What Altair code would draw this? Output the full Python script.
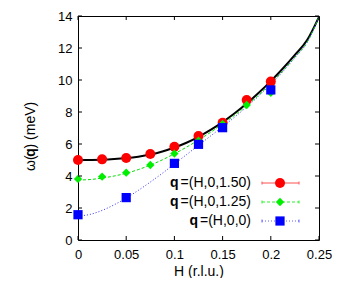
import altair as alt
import pandas as pd

# ---- data ----
H_pts = [0.0, 0.025, 0.05, 0.075, 0.1, 0.125, 0.15, 0.175, 0.2]
red_pts = [5.0, 5.04, 5.13, 5.38, 5.83, 6.5, 7.33, 8.75, 9.9]
green_pts = [3.82, 3.96, 4.21, 4.69, 5.4, 6.2, 7.25, 8.44, 9.2]
H_blue = [0.0, 0.05, 0.1, 0.125, 0.15, 0.2]
blue_pts = [1.58, 2.65, 4.79, 5.98, 7.02, 9.38]

H_curve = [0.0, 0.0125, 0.025, 0.0375, 0.05, 0.0625, 0.075, 0.0875, 0.1, 0.1125,
           0.125, 0.1375, 0.15, 0.1625, 0.175, 0.1875, 0.2, 0.2125, 0.225, 0.2375, 0.25]
black_curve = [5.0, 5.005, 5.02, 5.06, 5.12, 5.21, 5.34, 5.53, 5.78, 6.08,
               6.45, 6.88, 7.37, 7.92, 8.53, 9.2, 9.93, 10.72, 11.57, 12.48, 13.95]
green_curve = [3.75, 3.78, 3.87, 4.0, 4.17, 4.4, 4.68, 5.01, 5.39, 5.8,
               6.25, 6.73, 7.25, 7.8, 8.4, 9.06, 9.78, 10.57, 11.43, 12.35, 13.95]
blue_curve = [1.5, 1.6, 1.85, 2.2, 2.62, 3.1, 3.62, 4.17, 4.75, 5.33,
              5.92, 6.5, 7.08, 7.68, 8.32, 9.0, 9.73, 10.53, 11.4, 12.33, 13.95]

x_ticks = [0.0, 0.05, 0.1, 0.15, 0.2, 0.25]
y_ticks = [0, 2, 4, 6, 8, 10, 12, 14]

legend_rest = ["=(H,0,1.50)", "=(H,0,1.25)", "=(H,0,0)"]

FONT = "Liberation Sans"
W, H = 241, 224

xs = alt.Scale(domain=[0, 0.25], nice=False, zero=False)
ys = alt.Scale(domain=[0, 14], nice=False, zero=False)

xax = alt.Axis(values=x_ticks, format="~g", title="H (r.l.u.)", labelPadding=8,
               titlePadding=3, labelOverlap=False, labelFlush=False)
yax = alt.Axis(values=y_ticks, title=None, labelPadding=6, labelOverlap=False,
               labelFlush=False)


def X(field):
    return alt.X(field, scale=xs, axis=xax)


def Y(field):
    return alt.Y(field, scale=ys, axis=yax)


curves = pd.DataFrame({"H": H_curve, "black": black_curve,
                       "green": green_curve, "blue": blue_curve})
pts = pd.DataFrame({"H": H_pts, "red": red_pts, "green": green_pts})
bpts = pd.DataFrame({"H": H_blue, "blue": blue_pts})

base_c = alt.Chart(curves)
c_black = base_c.mark_line(color="black", strokeWidth=2, interpolate="monotone").encode(
    x=X("H:Q"), y=Y("black:Q"))
c_green = base_c.mark_line(color="#00dd00", strokeWidth=1, strokeDash=[3, 2],
                           interpolate="monotone").encode(x=X("H:Q"), y=Y("green:Q"))
c_blue = base_c.mark_line(color="#3030ff", strokeWidth=1, strokeDash=[1, 2],
                          interpolate="monotone").encode(x=X("H:Q"), y=Y("blue:Q"))

p_red = alt.Chart(pts).mark_point(shape="circle", filled=True, color="#ff0000",
                                  size=100, opacity=1).encode(x=X("H:Q"), y=Y("red:Q"))
p_green = alt.Chart(pts).mark_point(shape="diamond", filled=True, color="#00ee00",
                                    size=70, opacity=1).encode(x=X("H:Q"), y=Y("green:Q"))
p_blue = alt.Chart(bpts).mark_point(shape="square", filled=True, color="#0000ff",
                                    size=85, opacity=1).encode(x=X("H:Q"), y=Y("blue:Q"))

# inward ticks on all four sides
xt = pd.DataFrame({"t": x_ticks})
yt = pd.DataFrame({"t": y_ticks})
tick_b = alt.Chart(xt).mark_rule(color="black", strokeWidth=1).encode(
    x=X("t:Q"), y=alt.value(H), y2=alt.value(H - 4))
tick_t = alt.Chart(xt).mark_rule(color="black", strokeWidth=1).encode(
    x=X("t:Q"), y=alt.value(0), y2=alt.value(4))
tick_l = alt.Chart(yt).mark_rule(color="black", strokeWidth=1).encode(
    y=Y("t:Q"), x=alt.value(0), x2=alt.value(4))
tick_r = alt.Chart(yt).mark_rule(color="black", strokeWidth=1).encode(
    y=Y("t:Q"), x=alt.value(W), x2=alt.value(W - 4))

# y-axis title with bold q, built from rotated pieces
one = pd.DataFrame({"a": [0]})
ytitle_pieces = [("ω(", "normal", 0.0), ("q", "bold", 14.2), (") (meV)", "normal", 22.5)]
ybottom = 155
ytitle = []
for txt, wt, off in ytitle_pieces:
    ytitle.append(alt.Chart(one).mark_text(text=txt, font=FONT, fontSize=14, fontWeight=wt,
                                           angle=270, align="left", baseline="middle",
                                           color="black").encode(
        x=alt.value(-47), y=alt.value(ybottom - off)))

# legend
leg_colors = ["#ff0000", "#00ee00", "#0000ff"]
leg_line_colors = ["#ff5050", "#30ee30", "#6060ff"]
leg_shapes = ["circle", "diamond", "square"]
leg_sizes = [100, 70, 85]
leg_dash = [[1, 0], [3, 2], [1, 2]]
rest_w = [72.5, 72.5, 53.0]
leg_y = [167, 186, 205]
legend = []
for i in range(3):
    yy = leg_y[i]
    legend.append(alt.Chart(one).mark_text(text=legend_rest[i], font=FONT, fontSize=14,
                                           align="right", baseline="middle",
                                           color="black").encode(
        x=alt.value(173), y=alt.value(yy)))
    legend.append(alt.Chart(one).mark_text(text="q", font=FONT, fontSize=14,
                                           fontWeight="bold", align="right",
                                           baseline="middle", color="black").encode(
        x=alt.value(173 - rest_w[i]), y=alt.value(yy)))
    legend.append(alt.Chart(one).mark_rule(color=leg_line_colors[i], strokeWidth=1,
                                           strokeDash=leg_dash[i]).encode(
        x=alt.value(184), x2=alt.value(221), y=alt.value(yy)))
    for ex in (184, 221):
        legend.append(alt.Chart(one).mark_rule(color=leg_line_colors[i],
                                               strokeWidth=1).encode(
            x=alt.value(ex), y=alt.value(yy - 1.5), y2=alt.value(yy + 1.5)))
    legend.append(alt.Chart(one).mark_point(shape=leg_shapes[i], filled=True,
                                            color=leg_colors[i], size=leg_sizes[i],
                                            opacity=1).encode(
        x=alt.value(202), y=alt.value(yy)))

chart = alt.layer(
    c_black, c_green, c_blue, p_red, p_green, p_blue,
    tick_b, tick_t, tick_l, tick_r, *ytitle, *legend
).properties(
    width=W, height=H,
    autosize=alt.AutoSizeParams(type="none"),
    padding={"left": 70, "top": 8, "right": 14, "bottom": 38},
).configure_view(
    stroke="black", strokeWidth=1
).configure_axis(
    domain=False, ticks=False, grid=False, labelOverlap=False,
    labelFont=FONT, labelFontSize=13, labelColor="black",
    titleFont=FONT, titleFontSize=14, titleFontWeight="normal", titleColor="black",
)

chart.save("out.html", embed_options={"renderer": "svg", "actions": False})
